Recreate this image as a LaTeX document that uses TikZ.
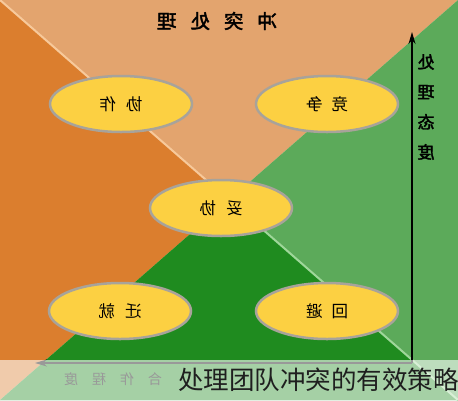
\documentclass[tikz,border=0pt]{standalone}
\usepackage{fontspec}
\newfontfamily\cjk{Noto Sans CJK SC}
\newfontfamily\cjkbold[FakeBold=2]{Noto Sans CJK SC}
\usetikzlibrary{shapes.geometric,arrows.meta}
\definecolor{topc}{HTML}{E3A46E}
\definecolor{leftc}{HTML}{DB7E2E}
\definecolor{rightc}{HTML}{5CAA5A}
\definecolor{botc}{HTML}{1F8B1F}
\definecolor{peachc}{HTML}{F7C99B}
\definecolor{mintc}{HTML}{9FD79A}
\definecolor{yolkc}{HTML}{FCD042}
\definecolor{ringc}{HTML}{A8A39A}
\begin{document}
\begin{tikzpicture}[	x=1pt,y=-1pt,%
					flip/.style={xscale=-1,transform shape},%
					mode/.style={flip,ellipse,draw=ringc,line width=2.5pt,fill=yolkc,%
						minimum width=142pt,minimum height=56pt,inner sep=0pt,%
						font=\cjk\fontsize{16.5}{16.5}\selectfont},%
					axis/.style={-{Stealth[length=12pt,width=7pt]},line width=1.5pt}]
\useasboundingbox (0,0) rectangle (458,400);

% four quarters
\coordinate (mid) at (229,200);
\fill [topc] (0,0) -- (458,0) -- (mid) -- cycle;
\fill [leftc] (0,0) -- (mid) -- (0,400) -- cycle;
\fill [rightc] (458,0) -- (458,400) -- (mid) -- cycle;
\fill [botc] (0,400) -- (mid) -- (458,400) -- cycle;
\draw [peachc,line width=2pt] (0,0) -- (mid);
\draw [mintc,line width=2pt] (mid) -- (458,400);

\node [flip,font=\cjkbold\fontsize{19.5}{19.5}\selectfont] (title) at (217,21) {冲\hspace{14pt}突\hspace{14pt}处\hspace{14pt}理};

\foreach \a\b\c\d in { xiezuo/121/104/{协\hspace{10pt}作},jingzheng/327/104/{竞\hspace{9pt}争},tuoxie/221/208/{妥\hspace{10pt}协},qianjiu/120/311/{迁\hspace{10pt}就},huibi/327/311/{回\hspace{9pt}避}}
	\node [mode] (\a) at (\b,\c) {\d};

% axes
\coordinate (origin) at (412,363);
\coordinate (ytip) at (412,32);
\coordinate (xtip) at (35,363);
\draw [axis] (origin) -- (ytip);
\draw [axis] (origin) -- (xtip);

\node [flip,align=center,font=\cjkbold\fontsize{17}{30}\selectfont] (ylabel) at (426,107) {处\\理\\态\\度};
\node [flip,font=\cjk\fontsize{14}{14}\selectfont] (xlabel) at (113,379) {合\hspace{14pt}作\hspace{14pt}程\hspace{14pt}度};

% caption band
\fill [white,opacity=0.6] (0,360) rectangle (458,400);
\node [anchor=east,inner sep=0pt,text=black!88,font=\cjk\fontsize{25.5}{26}\selectfont] (caption) at (459,380) {处理团队冲突的有效策略};

\end{tikzpicture}
\end{document}
